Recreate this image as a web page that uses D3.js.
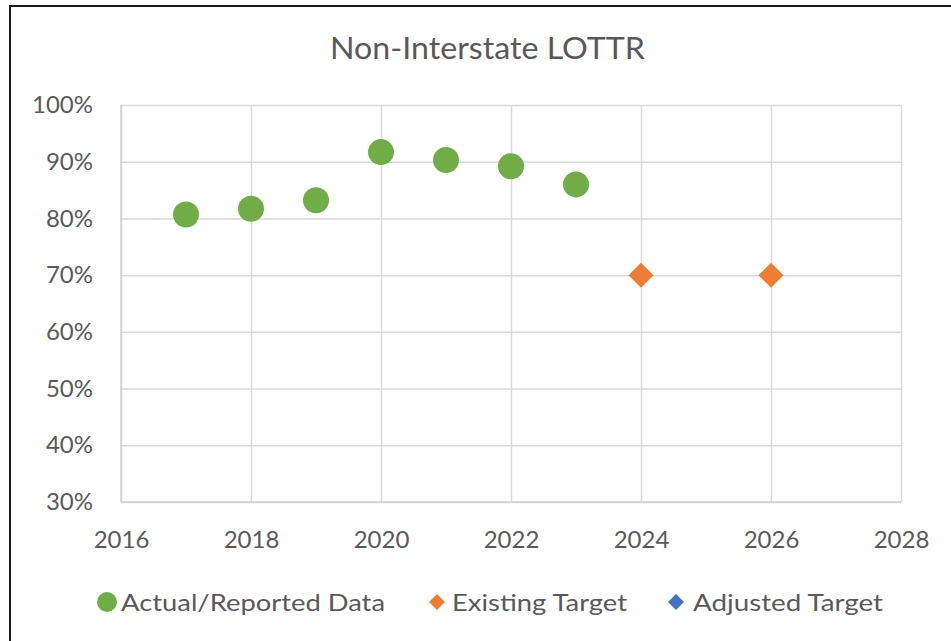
<!DOCTYPE html>
<html><head><meta charset="utf-8">
<script src="https://cdn.jsdelivr.net/npm/d3@7"></script>
<style>
body{margin:0;background:#fff}
svg text{font-family:Lato,"Open Sans",sans-serif;fill:#595959}
</style>
</head><body>
<svg id="c" width="951" height="641"></svg>
<script>
const chartTitle = "Non-Interstate LOTTR";
const actualYears = [2017, 2018, 2019, 2020, 2021, 2022, 2023];
const actualValues = [0.807, 0.817, 0.832, 0.917, 0.903, 0.892, 0.860];
const existingYears = [2024, 2026];
const existingValues = [0.70, 0.70];
const adjustedYears = [];
const adjustedValues = [];
const xTicks = [2016, 2018, 2020, 2022, 2024, 2026, 2028];
const yTicks = [0.3, 0.4, 0.5, 0.6, 0.7, 0.8, 0.9, 1.0];
const seriesNames = ["Actual/Reported Data", "Existing Target", "Adjusted Target"];
const seriesColors = ["#70ad47", "#ed7d31", "#4472c4"];

const svg = d3.select("#c");
const L = 121, R = 901, T = 105, B = 502;
const x = d3.scaleLinear().domain([2016, 2028]).range([L, R]);
const y = d3.scaleLinear().domain([0.3, 1.0]).range([B, T]);

svg.append("rect").attr("width", 951).attr("height", 641).attr("fill", "#fff");
// outer frame (top & left visible)
svg.append("line").attr("x1", 10).attr("x2", 951).attr("y1", 6).attr("y2", 6).attr("stroke", "#1a1a1a").attr("stroke-width", 2);
svg.append("line").attr("x1", 10).attr("x2", 10).attr("y1", 5).attr("y2", 641).attr("stroke", "#1a1a1a").attr("stroke-width", 2);

svg.append("text").attr("x", 330).attr("y", 59).attr("font-size", 30.5)
  .attr("textLength", 315).attr("lengthAdjust", "spacingAndGlyphs").text(chartTitle);

const fmt = d3.format(".0%");
const gy = svg.append("g").attr("transform", `translate(${L},0)`)
  .call(d3.axisLeft(y).tickValues(yTicks).tickFormat(fmt).tickSize(-(R - L)).tickPadding(28));
const gx = svg.append("g").attr("transform", `translate(0,${B})`)
  .call(d3.axisBottom(x).tickValues(xTicks).tickFormat(d3.format("d")).tickSize(-(B - T)).tickPadding(29));
[gy, gx].forEach(g => {
  g.select(".domain").remove();
  g.selectAll(".tick line").attr("stroke", "#d9d9d9").attr("stroke-width", 1.5);
  g.selectAll(".tick text").attr("font-size", 24).attr("font-family", null).attr("fill", "#595959");
  g.attr("font-family", null);
});
svg.append("line").attr("x1", L).attr("x2", R).attr("y1", B).attr("y2", B).attr("stroke", "#d0d0d0").attr("stroke-width", 1.5);
svg.append("line").attr("x1", L).attr("x2", L).attr("y1", T).attr("y2", B).attr("stroke", "#d0d0d0").attr("stroke-width", 1.5);

const diamond = r => `M0,${-r}L${r},0L0,${r}L${-r},0Z`;

svg.append("g").selectAll("circle").data(actualYears.map((d, i) => [d, actualValues[i]]))
  .join("circle").attr("cx", d => x(d[0])).attr("cy", d => y(d[1])).attr("r", 13).attr("fill", seriesColors[0]);
svg.append("g").selectAll("path").data(existingYears.map((d, i) => [d, existingValues[i]]))
  .join("path").attr("d", diamond(12.5)).attr("transform", d => `translate(${x(d[0])},${y(d[1])})`).attr("fill", seriesColors[1]);
svg.append("g").selectAll("path").data(adjustedYears.map((d, i) => [d, adjustedValues[i]]))
  .join("path").attr("d", diamond(12.5)).attr("transform", d => `translate(${x(d[0])},${y(d[1])})`).attr("fill", seriesColors[2]);

// legend
const legY = 602;
const legItems = [
  {mx: 107, tx: 121, w: 264, shape: "circle"},
  {mx: 437, tx: 452, w: 175, shape: "diamond"},
  {mx: 676, tx: 693, w: 190, shape: "diamond"}
];
legItems.forEach((it, i) => {
  if (it.shape === "circle") {
    svg.append("circle").attr("cx", it.mx).attr("cy", legY).attr("r", 10).attr("fill", seriesColors[i]);
  } else {
    svg.append("path").attr("d", diamond(8)).attr("transform", `translate(${it.mx},${legY})`).attr("fill", seriesColors[i]);
  }
  svg.append("text").attr("x", it.tx).attr("y", legY + 8.5).attr("font-size", 24)
    .attr("textLength", it.w).attr("lengthAdjust", "spacingAndGlyphs").text(seriesNames[i]);
});
</script>
</body></html>
